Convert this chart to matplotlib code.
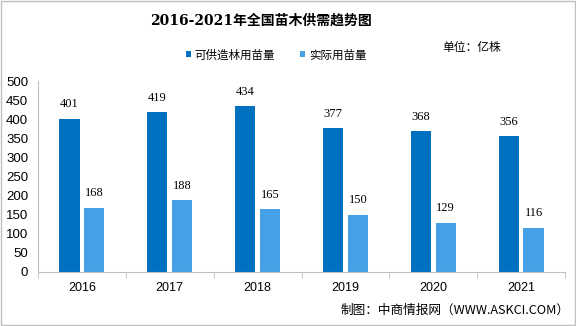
import matplotlib.pyplot as plt
import numpy as np

years = ['2016', '2017', '2018', '2019', '2020', '2021']
supply = [401, 419, 434, 377, 368, 356]
actual = [168, 188, 165, 150, 129, 116]
series_names = ['可供造林用苗量', '实际用苗量']

plt.rcParams['font.family'] = ['Liberation Sans', 'Noto Sans CJK SC']

fig = plt.figure(figsize=(5.76, 3.26), dpi=100)
ax = fig.add_axes([38 / 576, 1 - 272 / 326, 527 / 576, 191 / 326])

x = np.arange(len(years))
w = 0.23
b1 = ax.bar(x - 0.142, supply, w, color='#0070C0', label=series_names[0])
b2 = ax.bar(x + 0.142, actual, w, color='#45A0E6', label=series_names[1])

for bars in (b1, b2):
    for r in bars:
        ax.text(r.get_x() + r.get_width() / 2, r.get_height() + 22, str(int(r.get_height())),
                ha='center', va='bottom', fontsize=9, family=['Liberation Serif'])

ax.set_xlim(-0.5, len(years) - 0.5)
ax.set_ylim(0, 500)
ax.set_yticks(range(0, 501, 50))
ax.set_xticks(x)
ax.set_xticklabels(years)
ax.set_xticks(np.arange(-0.5, len(years), 1), minor=True)
ax.tick_params(axis='x', which='major', length=0, labelsize=9, pad=7)
ax.tick_params(axis='x', which='minor', length=4, color='#BFBFBF')
ax.tick_params(axis='y', length=0, labelsize=9.5, pad=7)
for s in ['top', 'right']:
    ax.spines[s].set_visible(False)
ax.spines['left'].set_color('#BFBFBF')
ax.spines['bottom'].set_color('#BFBFBF')

fig.text(261 / 576, 1 - 21 / 326, '2016-2021年全国苗木供需趋势图', ha='center', va='center',
         fontsize=10, fontweight='bold', family=['DejaVu Serif', 'Noto Sans CJK SC'])
fig.text(442 / 576, 1 - 48 / 326, '单位：亿株', ha='left', va='center', fontsize=8.5,
         family=['Noto Sans CJK SC'])
fig.legend(handles=[b1, b2], loc='center', bbox_to_anchor=(276 / 576, 1 - 55 / 326), ncol=2,
           frameon=False, handlelength=0.45, handleheight=0.45, handletextpad=0.3,
           columnspacing=2.2, prop={'family': ['Noto Sans CJK SC'], 'size': 8.3})
fig.text(569 / 576, 1 - 310 / 326, '制图：中商情报网（WWW.ASKCI.COM）', ha='right', va='center',
         fontsize=9.1, family=['Noto Sans CJK SC'])

fig.patches.append(plt.Rectangle((0.001, 0.002), 0.997, 0.995, transform=fig.transFigure,
                                 fill=False, edgecolor='#BFBFBF', linewidth=1))

fig.savefig('out.png', dpi=100)
